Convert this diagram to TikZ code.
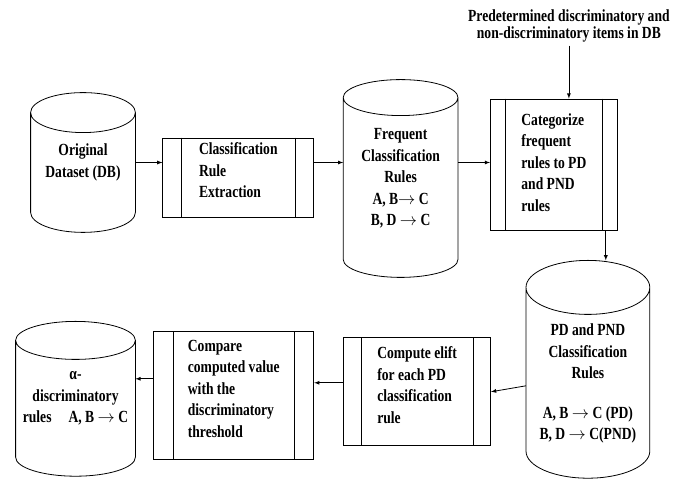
\documentclass[tikz,border=0pt]{standalone}
\usepackage{fontspec}
\setmainfont[FakeStretch=0.8]{Liberation Serif}
\usetikzlibrary{positioning, calc, arrows}

\tikzset{
  txt/.style={font=\bfseries\fontsize{17}{21.5}\selectfont},
  db/.style={align=center, inner sep=0pt},
  proc/.style={draw, align=left, inner sep=0pt, text depth=14pt},
}

% cylinder outline round a node: node name, y radius of the ends
\newcommand{\drawdb}[2]{%
  \draw let \p1=(#1.north west), \p2=(#1.south east), \n1={(\x2-\x1)/2} in
    (\x1,\y1-#2) -- (\x1,\y2+#2) arc[start angle=180, end angle=360, x radius=\n1, y radius=#2] -- (\x2,\y1-#2)
    (\x1,\y1-#2) arc[start angle=180, end angle=-180, x radius=\n1, y radius=#2];}
% side bars of a process box
\newcommand{\drawbars}[2]{%
  \draw ([xshift=#2]#1.north west) -- ([xshift=#2]#1.south west)
        ([xshift=-#2]#1.north east) -- ([xshift=-#2]#1.south east);}

\begin{document}
\begin{tikzpicture}[line width=0.8pt, >=latex, every node/.style={txt}]
\useasboundingbox (0,0) rectangle (678pt,481pt);
\node[db, minimum width=104pt, minimum height=139pt] (orig) at (83pt,318.5pt) {Original\\Dataset (DB)};
\node[proc, right=27pt of orig, yshift=-15pt, minimum width=151pt, minimum height=79pt] (rulext) {Classification\\Rule\\Extraction};
\node[db, right=29pt of rulext, yshift=-1pt, minimum width=114pt, minimum height=197pt] (freq) {Frequent\\Classification\\Rules\\A, B$\rightarrow$ C\\B, D $\rightarrow$ C};
\node[proc, right=32pt of freq, yshift=14pt, minimum width=127pt, minimum height=131pt, text depth=4pt] (categ) {Categorize\\frequent\\rules to PD\\and PND\\rules};
\node[above=53pt of categ, xshift=15pt, inner sep=3pt, align=center, font=\bfseries\fontsize{17}{17}\selectfont] (note) {Predetermined discriminatory and\\non-discriminatory items in DB};
\node[db, below=30pt of categ, xshift=34pt, minimum width=123pt, minimum height=217pt,
  label={[name=pdtext, align=center, yshift=-14.5pt]center:{PD and PND\\Classification\\Rules\\[18pt]A, B $\rightarrow$ C (PD)\\B, D $\rightarrow$ C(PND)}}] (pdrules) {};
\node[proc, left=35pt of pdrules, yshift=-22.5pt, minimum width=147pt, minimum height=108pt] (elift) {Compute elift\\for each PD\\classification\\rule};
\node[proc, left=29pt of elift, yshift=-4pt, minimum width=160pt, minimum height=128pt] (compare) {Compare\\computed value\\with the\\discriminatory\\threshold};
\node[db, left=18pt of compare, yshift=-3pt, minimum width=119pt, minimum height=154pt] (alpha) {α-\\discriminatory\\rules\quad A, B $\rightarrow$ C};

\drawdb{orig}{20pt}
\drawdb{freq}{18pt}
\drawdb{pdrules}{27pt}
\drawdb{alpha}{19pt}
\drawbars{rulext}{19pt}
\drawbars{categ}{15pt}
\drawbars{elift}{18pt}
\drawbars{compare}{20pt}

\draw[->] (orig.east) -- (orig.east -| rulext.west);
\draw[->] (orig.east -| rulext.east) -- (orig.east -| freq.west);
\draw[->] (orig.east -| freq.east) -- (orig.east -| categ.west);
\draw[->] (note.south) -- (note.south |- categ.north);
\draw[->] ([xshift=-12pt]categ.south east) -- ([xshift=-12pt]categ.south east |- pdrules.north);
\draw[->] ([yshift=-16.5pt]pdrules.west) -- (elift.east);
\draw[->] ([yshift=9pt]elift.west) -- ([yshift=9pt]elift.west -| compare.east);
\draw[->] ([yshift=17pt]compare.west) -- ([yshift=17pt]compare.west -| alpha.east);
\end{tikzpicture}
\end{document}
